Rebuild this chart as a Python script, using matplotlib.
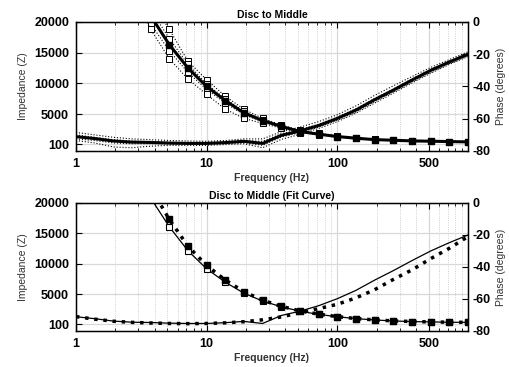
import matplotlib
matplotlib.use("Agg")
import matplotlib.pyplot as plt
from matplotlib.ticker import FixedLocator, NullFormatter, LogLocator

plt.rcParams['font.family'] = ['Liberation Sans', 'DejaVu Sans']
plt.rcParams['font.weight'] = 'bold'

# frequencies (Hz)
freq = [1, 1.39, 1.93, 2.68, 3.73, 5.18, 7.2, 10, 13.9, 19.3, 26.8, 37.3, 51.8,
        72, 100, 139, 193, 268, 373, 518, 720, 1000]
zfreq = freq[3:]

# top panel: measured impedance, mean and individual runs
z_mean = [27500, 21000, 16300, 12500, 9500, 7200, 5200, 3950, 3000, 2170, 1740,
          1350, 1080, 850, 750, 640, 590, 530, 480]
z_runs = [
    [30500, 23500, 18800, 13600, 10600, 7900, 5800, 4300, 3250, 2350, 1850, 1420, 1130, 890, 780, 660, 600, 540, 490],
    [28500, 22000, 17300, 13100, 9900, 7500, 5450, 4100, 3100, 2250, 1790, 1380, 1100, 870, 760, 650, 595, 535, 485],
    [26000, 19700, 15300, 11800, 9000, 6800, 4900, 3750, 2850, 2080, 1690, 1320, 1060, 830, 740, 630, 585, 525, 475],
    [24500, 18800, 14000, 10700, 8200, 5800, 4300, 3500, 2700, 2000, 1650, 1290, 1040, 820, 730, 625, 580, 520, 470],
]

# top panel: phase, mean and individual runs
p_mean = [-71.1, -72.3, -73.8, -74.5, -74.7, -75.1, -75.3, -75.3, -74.8, -74.0, -75.3,
          -70.3, -67.6, -64.2, -59.8, -54.6, -48.2, -42.3, -36.0, -30.0, -24.8, -20.0]
p_runs = [
    [-68.5, -70.0, -71.5, -72.5, -73.0, -73.5, -73.8, -74.0, -73.5, -72.5, -72.5, -68.0, -65.2, -61.8, -57.5, -52.0, -45.5, -39.6, -33.8, -28.2, -23.3, -18.5],
    [-70.0, -71.5, -73.0, -73.8, -74.2, -74.6, -74.8, -74.8, -74.3, -73.5, -74.0, -69.3, -66.7, -63.4, -59.0, -53.8, -47.4, -41.6, -35.3, -29.5, -24.3, -19.5],
    [-72.5, -73.5, -75.0, -75.5, -75.5, -75.6, -75.8, -75.8, -75.3, -74.8, -76.5, -71.3, -68.7, -65.2, -61.0, -55.8, -49.4, -43.4, -37.2, -31.2, -25.8, -21.0],
    [-73.5, -75.0, -77.5, -78.0, -77.0, -76.5, -76.5, -76.5, -76.0, -75.5, -78.0, -72.8, -69.7, -66.0, -61.8, -56.5, -50.3, -44.2, -37.8, -31.8, -26.3, -21.5],
]

# bottom panel: data vs fit curve
z_data = [27000, 20800, 16100, 12150, 9200, 7000, 5200, 3920, 2970, 2250, 1720,
          1340, 1030, 810, 650, 540, 490, 430, 420]
z_fit = [29000, 22500, 17300, 12900, 9750, 7350, 5450, 4050, 3050, 2300, 1760,
         1360, 1040, 820, 660, 550, 490, 440, 420]
p_data = p_mean
p_fit = [-71.0, -72.6, -73.9, -74.6, -75.0, -75.3, -75.4, -75.3, -74.9, -74.2, -73.0,
         -71.2, -68.6, -66.0, -63.3, -59.3, -54.2, -47.8, -41.8, -34.8, -28.3, -21.0]

xticks = [1, 10, 100, 500]
zticks = [20000, 15000, 10000, 5000, 100]
pticks = [0, -20, -40, -60, -80]


def style_axes(ax, title):
    ax.set_xscale('log')
    ax.set_xlim(1, 1000)
    ax.set_ylim(-1000, 20000)
    ax.xaxis.set_major_locator(FixedLocator(xticks))
    ax.set_xticklabels([str(t) for t in xticks], fontweight='bold')
    ax.xaxis.set_minor_locator(LogLocator(base=10, subs=range(2, 10), numticks=10))
    ax.xaxis.set_minor_formatter(NullFormatter())
    ax.set_yticks(zticks)
    ax.set_yticklabels([str(t) for t in zticks], fontweight='bold')
    ax.tick_params(axis='both', which='both', direction='in', top=True, labelsize=9)
    ax.tick_params(which='major', length=4, pad=5)
    ax.tick_params(which='minor', length=2.5)
    ax.grid(True, which='major', color='#d8d8d8', lw=0.9, ls='-')
    ax.grid(True, which='minor', axis='x', color='#c0c0c0', lw=0.6, ls=':')
    ax.set_axisbelow(True)
    ax.set_xlabel('Frequency (Hz)', fontsize=7.5, color='#333333', labelpad=2,
                  fontweight='bold')
    ax.set_ylabel('Impedance (Z)', fontsize=7.5, color='#333333', fontweight='normal')
    ax.set_title(title, fontsize=7.5, pad=3, fontweight='bold')
    for s in ax.spines.values():
        s.set_linewidth(1.0)

    ax2 = ax.twinx()
    ax2.set_ylim(-80, 0)
    ax2.set_yticks(pticks)
    ax2.set_yticklabels([str(t) for t in pticks], fontweight='bold')
    ax2.tick_params(direction='in', labelsize=9, length=4, pad=3)
    ax2.set_ylabel('Phase (degrees)', fontsize=7.5, color='#333333', fontweight='normal')
    return ax2


fig = plt.figure(figsize=(5.1, 3.67), dpi=100)

ax1 = fig.add_axes([0.149, 0.5886, 0.7686, 0.3515])
ax1p = style_axes(ax1, 'Disc to Middle')
for run in z_runs:
    ax1.plot(zfreq, run, ls=':', lw=0.8, color='black', marker='s',
             markersize=4, markerfacecolor='white', markeredgewidth=0.7)
ax1.plot(zfreq, z_mean, color='black', lw=2.2, marker='s', markersize=4.5)
for run in p_runs:
    ax1p.plot(freq, run, ls=':', lw=0.8, color='black')
ax1p.plot(freq, p_mean, color='black', lw=2.2)

ax2 = fig.add_axes([0.149, 0.0981, 0.7686, 0.3488])
ax2p = style_axes(ax2, 'Disc to Middle (Fit Curve)')
ax2.plot(zfreq, z_data, color='black', lw=0.9, marker='s', markersize=4,
         markerfacecolor='white', markeredgewidth=0.8)
ax2.plot(zfreq, z_fit, color='black', lw=2.5, ls=':', marker='s', markersize=4.5)
ax2p.plot(freq, p_data, color='black', lw=0.9)
ax2p.plot(freq, p_fit, color='black', lw=2.5, ls=':')

fig.savefig('out.png', dpi=100)
